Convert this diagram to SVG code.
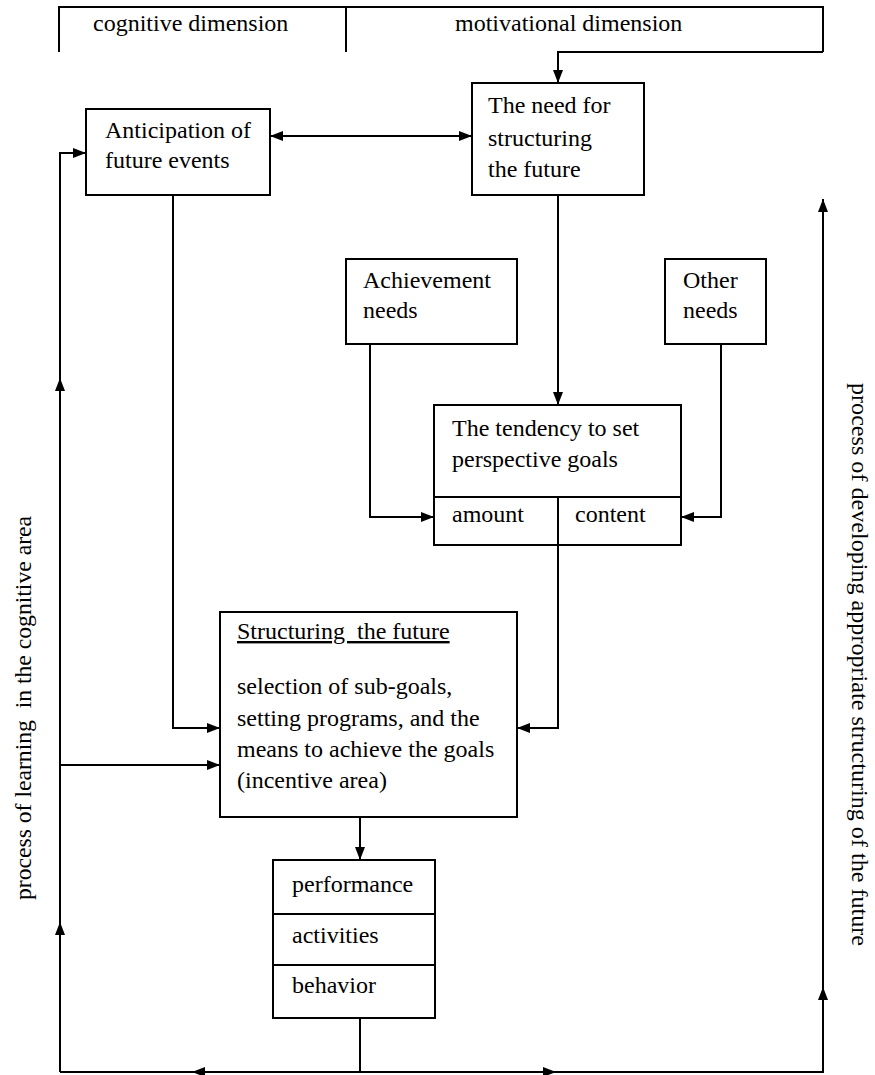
<svg xmlns="http://www.w3.org/2000/svg" width="875" height="1075" viewBox="0 0 875 1075" font-family="'Liberation Serif', 'Times New Roman', Times, serif">
<style>
text{font-family:"Liberation Serif","Times New Roman",Times,serif;font-size:24px;fill:#000}
.box{fill:#fff;stroke:#000;stroke-width:2}
.ln{fill:none;stroke:#000;stroke-width:2}
</style>
<defs>
<marker id="ah" markerUnits="userSpaceOnUse" markerWidth="14" markerHeight="14" viewBox="0 0 14 14" refX="13" refY="7" orient="auto-start-reverse">
<path d="M0,2 L13,7 L0,12 z" fill="#000"/>
</marker>
</defs>
<rect width="875" height="1075" fill="#fff"/>
<g id="header">
<path class="ln" d="M59,52 V7 H823 V52 M346,7 V52"/>
<text x="93" y="31">cognitive dimension</text>
<text x="455" y="31">motivational dimension</text>
</g>
<g id="connectors">
<path class="ln" d="M823,52 H558 V83" marker-end="url(#ah)"/>
<path class="ln" d="M270,136 H472" marker-start="url(#ah)" marker-end="url(#ah)"/>
<path class="ln" d="M558,195 V405" marker-end="url(#ah)"/>
<path class="ln" d="M370,344 V517 H434" marker-end="url(#ah)"/>
<path class="ln" d="M721,344 V517 H681" marker-end="url(#ah)"/>
<path class="ln" d="M173,195 V728 H220" marker-end="url(#ah)"/>
<path class="ln" d="M558,545 V728 H517" marker-end="url(#ah)"/>
<path class="ln" d="M360,817 V860" marker-end="url(#ah)"/>
<path class="ln" d="M360,1018 V1072 M60,1072 H823 V199" marker-end="url(#ah)"/>
<path class="ln" d="M60,1072 V153 H86" marker-end="url(#ah)"/>
<path class="ln" d="M60,765 H220" marker-end="url(#ah)"/>
<path class="ln" d="M60,400 V378" marker-end="url(#ah)"/>
<path class="ln" d="M60,940 V922" marker-end="url(#ah)"/>
<path class="ln" d="M823,1005 V987" marker-end="url(#ah)"/>
<path class="ln" d="M210,1072 H192" marker-end="url(#ah)"/>
<path class="ln" d="M540,1072 H556" marker-end="url(#ah)"/>
</g>
<g id="anticipation">
<rect class="box" x="86" y="109" width="184" height="86"/>
<text x="105" y="138">Anticipation of</text>
<text x="105" y="168">future events</text>
</g>
<g id="need">
<rect class="box" x="472" y="83" width="172" height="112"/>
<text x="488" y="113">The need for</text>
<text x="488" y="146">structuring</text>
<text x="488" y="177">the future</text>
</g>
<g id="achievement">
<rect class="box" x="346" y="259" width="171" height="85"/>
<text x="363" y="288">Achievement</text>
<text x="363" y="318">needs</text>
</g>
<g id="other">
<rect class="box" x="665" y="259" width="101" height="85"/>
<text x="683" y="288">Other</text>
<text x="683" y="318">needs</text>
</g>
<g id="tendency">
<rect class="box" x="434" y="405" width="247" height="140"/>
<path class="ln" d="M434,497 H681 M558,497 V545"/>
<text x="452" y="436">The tendency to set</text>
<text x="452" y="467">perspective goals</text>
<text x="452" y="522">amount</text>
<text x="575" y="522">content</text>
</g>
<g id="structuring">
<rect class="box" x="220" y="612" width="297" height="205"/>
<text x="237" y="639" text-decoration="underline">Structuring&#160; the future</text>
<text x="237" y="694">selection of sub-goals,</text>
<text x="237" y="726">setting programs, and the</text>
<text x="237" y="757">means to achieve the goals</text>
<text x="237" y="788">(incentive area)</text>
</g>
<g id="performance">
<rect class="box" x="273" y="860" width="162" height="158"/>
<path class="ln" d="M273,914 H435 M273,965 H435"/>
<text x="292" y="892">performance</text>
<text x="292" y="943">activities</text>
<text x="292" y="993">behavior</text>
</g>
<g id="side-labels">
<text transform="translate(31,900) rotate(-90)" textLength="384" lengthAdjust="spacingAndGlyphs">process of learning&#160; in the cognitive area</text>
<text transform="translate(852,383) rotate(90)" textLength="563" lengthAdjust="spacingAndGlyphs">process of developing appropriate structuring of the future</text>
</g>
</svg>
